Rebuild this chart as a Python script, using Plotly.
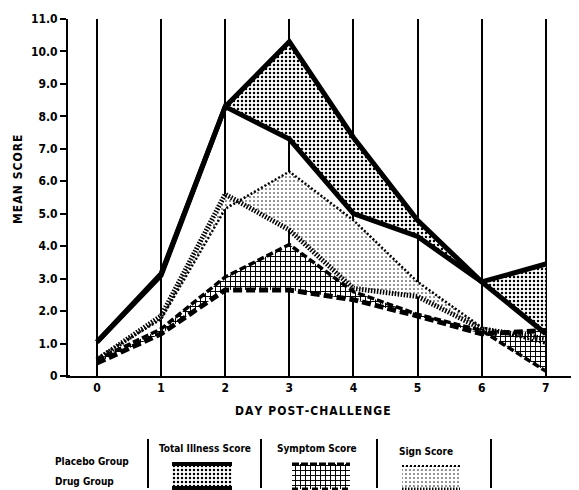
import plotly.graph_objects as go

# ---------------- data ----------------
days = [0, 1, 2, 3, 4, 5, 6, 7]
total_placebo = [1.05, 3.15, 8.3, 10.3, 7.35, 4.8, 2.9, 1.3]
total_drug = [1.05, 3.1, 8.3, 7.3, 5.0, 4.3, 2.9, 3.45]
symptom_placebo = [0.5, 1.45, 3.05, 4.05, 2.6, 1.9, 1.4, 0.15]
symptom_drug = [0.4, 1.3, 2.65, 2.65, 2.35, 1.85, 1.3, 1.4]
sign_placebo = [0.55, 1.75, 5.15, 6.3, 4.8, 2.9, 1.5, 1.0]
sign_drug = [0.5, 1.85, 5.6, 4.5, 2.7, 2.45, 1.45, 1.15]
y_ticks = [0, 1, 2, 3, 4, 5, 6, 7, 8, 9, 10, 11]
y_ticklabels = ["0", "1.0", "2.0", "3.0", "4.0", "5.0", "6.0", "7.0", "8.0", "9.0", "10.0", "11.0"]
x_ticklabels = ["0", "1", "2", "3", "4", "5", "6", "7"]
legend_scores = ["Total Illness Score", "Symptom Score", "Sign Score"]
legend_groups = ["Placebo Group", "Drug Group"]
x_title = "DAY POST-CHALLENGE"
y_title = "MEAN SCORE"

# the page body has an 8px margin: work in reference pixels, shift by OFF
OFF = 8
W, H = 579 - OFF, 490 - OFF
FONT = "DejaVu Sans Condensed, Liberation Sans Narrow, DejaVu Sans, Liberation Sans"


def fx(px):
    return px - OFF


def fy(py):
    return py - OFF


def spaced(s):
    return "\u200a".join(s)


pat_total = dict(shape=".", size=4, solidity=0.3, fgcolor="black", bgcolor="white", fillmode="replace")
pat_symptom = dict(shape="+", size=5, solidity=0.35, fgcolor="black", bgcolor="white", fillmode="replace")
pat_sign = dict(shape=".", size=4, solidity=0.12, fgcolor="black", bgcolor="white", fillmode="replace")

fig = go.Figure()


def band(upper, lower, pat):
    fig.add_trace(go.Scatter(
        x=days + days[::-1], y=upper + lower[::-1], mode="lines",
        fill="toself", fillpattern=pat, fillcolor="white",
        line=dict(width=0), hoverinfo="skip", showlegend=False))


band(total_placebo, total_drug, pat_total)
band(sign_placebo, sign_drug, pat_sign)
band(symptom_placebo, symptom_drug, pat_symptom)


def line(vals, width, dash):
    fig.add_trace(go.Scatter(x=days, y=vals, mode="lines",
                             line=dict(color="black", width=width, dash=dash),
                             showlegend=False))


line(sign_placebo, 2.5, "2px,2px")
line(sign_drug, 5, "1.5px,1.5px")
line(symptom_placebo, 3.5, "7px,3px")
line(symptom_drug, 5, "9px,4px")
line(total_placebo, 5, "solid")
line(total_drug, 5, "solid")


# ---------- legend swatches (pixel-space axes, reference pixel coords) ----------
def rect(x0, x1, y0, y1, pat):
    fig.add_trace(go.Scatter(x=[fx(x0), fx(x1), fx(x1), fx(x0), fx(x0)],
                             y=[fy(y0), fy(y0), fy(y1), fy(y1), fy(y0)],
                             mode="lines", fill="toself", fillpattern=pat, fillcolor="white",
                             line=dict(width=0), xaxis="x2", yaxis="y2",
                             hoverinfo="skip", showlegend=False))


def hline(x0, x1, y, width, dash):
    fig.add_trace(go.Scatter(x=[fx(x0), fx(x1)], y=[fy(y), fy(y)], mode="lines",
                             line=dict(color="black", width=width, dash=dash),
                             xaxis="x2", yaxis="y2", hoverinfo="skip", showlegend=False))


rect(172, 232, 464, 488, pat_total)
hline(172, 232, 464, 4, "solid")
hline(172, 232, 488, 4, "solid")
rect(292, 350, 464, 489, pat_symptom)
hline(292, 350, 464, 3, "7px,2px")
hline(292, 350, 489, 3, "6px,4px")
rect(402, 460, 466, 489, pat_sign)
hline(402, 460, 466, 2, "2px,2px")
hline(402, 460, 489, 3, "1.5px,1.5px")

x0d, x1d = fx(68) / W, fx(577) / W
y0d, y1d = (H - fy(376)) / H, (H - fy(19)) / H

fig.update_layout(
    width=W, height=H,
    margin=dict(l=0, r=0, t=0, b=0),
    paper_bgcolor="white", plot_bgcolor="rgba(0,0,0,0)",
    font=dict(family=FONT, color="black"),
    xaxis=dict(domain=[x0d, x1d], range=[-0.452, 7.487], tickvals=days,
               ticktext=["<b>" + t + "</b>" for t in x_ticklabels],
               showgrid=True, gridcolor="black", gridwidth=1.5, zeroline=False,
               showline=True, linecolor="black", linewidth=2, ticks="",
               tickfont=dict(size=12, family=FONT), automargin=False, fixedrange=True),
    yaxis=dict(domain=[y0d, y1d], range=[0, 11], tickvals=y_ticks,
               ticktext=["<b>" + t + "</b>" for t in y_ticklabels],
               showgrid=False, zeroline=False, showline=True, linecolor="black", linewidth=2,
               ticks="outside", ticklen=6, tickwidth=2, tickcolor="black",
               tickfont=dict(size=12, family=FONT), automargin=False, fixedrange=True),
    xaxis2=dict(domain=[0, 1], range=[0, W], visible=False, fixedrange=True, anchor="y2"),
    yaxis2=dict(domain=[0, 1], range=[H, 0], visible=False, fixedrange=True, anchor="x2"),
)

# right border & bottom extension, separators
fig.add_shape(type="line", xref="x2", yref="y2", x0=fx(577), x1=fx(577), y0=fy(243), y1=fy(377),
              line=dict(color="black", width=2))
fig.add_shape(type="line", xref="x2", yref="y2", x0=fx(60), x1=fx(70), y0=fy(376), y1=fy(376),
              line=dict(color="black", width=2))
for sx in [148, 261, 377, 491]:
    fig.add_shape(type="line", xref="x2", yref="y2", x0=fx(sx), x1=fx(sx), y0=fy(439), y1=fy(488),
                  line=dict(color="black", width=2))


def ann(text, px, py, size, xanchor="center", angle=0):
    fig.add_annotation(text=text, x=fx(px) / W, y=1 - fy(py) / H, xref="paper", yref="paper",
                       showarrow=False, xanchor=xanchor, yanchor="middle", textangle=angle,
                       font=dict(size=size, family=FONT, color="black"))


ann("<b>" + spaced(x_title) + "</b>", 313, 411, 12)
ann("<b>" + spaced(y_title) + "</b>", 18, 180, 12, angle=-90)
ann("<b>" + legend_groups[0] + "</b>", 53, 461, 10, xanchor="left")
ann("<b>" + legend_groups[1] + "</b>", 53, 481, 10, xanchor="left")
ann("<b>" + legend_scores[0] + "</b>", 205, 448, 10)
ann("<b>" + legend_scores[1] + "</b>", 317, 448, 10)
ann("<b>" + legend_scores[2] + "</b>", 426, 451, 10)

fig.write_html("out.html")
